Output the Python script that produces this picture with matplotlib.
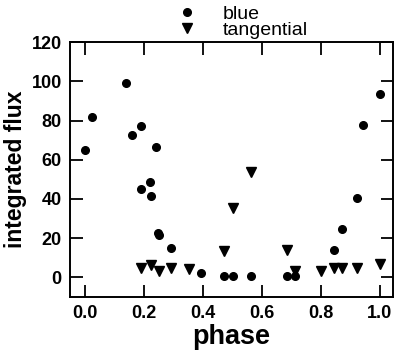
import matplotlib
matplotlib.use("Agg")
import matplotlib.pyplot as plt

# phase / integrated flux
blue_phase = [0.00, 0.023, 0.141, 0.16, 0.19, 0.19, 0.221, 0.223, 0.243, 0.25, 0.253,
              0.294, 0.394, 0.471, 0.503, 0.563, 0.684, 0.712, 0.844, 0.873, 0.924,
              0.943, 1.002]
blue_flux = [65, 82, 99, 72.5, 77, 45, 48.5, 41.5, 66.5, 22.5, 21.5,
             15, 2.4, 0.5, 0.5, 0.5, 0.5, 0.5, 14.2, 24.8, 40.3,
             77.5, 93.3]

tang_phase = [0.19, 0.223, 0.252, 0.294, 0.353, 0.471, 0.503, 0.563, 0.684, 0.712,
              0.802, 0.844, 0.873, 0.924, 1.002]
tang_flux = [4.7, 6.4, 3.2, 4.7, 4.2, 13.7, 35.6, 54, 14.2, 3.5,
             3.5, 4.6, 4.6, 4.7, 6.9]

plt.rcParams["font.family"] = ["Liberation Sans", "DejaVu Sans"]

fig = plt.figure(figsize=(4, 3.57), dpi=100)
ax = fig.add_axes([0.175, 0.168, 0.8075, 0.714])

ax.plot(blue_phase, blue_flux, "o", color="black", ms=5.5, label="blue")
ax.plot(tang_phase, tang_flux, "v", color="black", ms=7.5, label="tangential")

ax.set_xlim(-0.05, 1.045)
ax.set_ylim(-10, 120)
ax.set_xticks([0.0, 0.2, 0.4, 0.6, 0.8, 1.0])
ax.set_yticks([0, 20, 40, 60, 80, 100, 120])
ax.xaxis.set_major_formatter(matplotlib.ticker.FormatStrFormatter("%.1f"))

ax.tick_params(direction="in", length=9, width=1.3, top=True, right=True,
               labelsize=13, pad=6)
for lab in ax.get_xticklabels() + ax.get_yticklabels():
    lab.set_fontweight("bold")
for sp in ax.spines.values():
    sp.set_linewidth(1.4)

ax.set_xlabel("phase", fontsize=19.5, fontweight="bold", labelpad=1)
ax.set_ylabel("integrated flux", fontsize=16.5, fontweight="bold", labelpad=3)

ax.legend(loc="upper left", bbox_to_anchor=(0.42, 1.012), bbox_transform=fig.transFigure,
          frameon=False, fontsize=14, numpoints=1, handlelength=1.0,
          handletextpad=1.3, labelspacing=-0.1, borderpad=0)

fig.savefig("out.png", dpi=100)
